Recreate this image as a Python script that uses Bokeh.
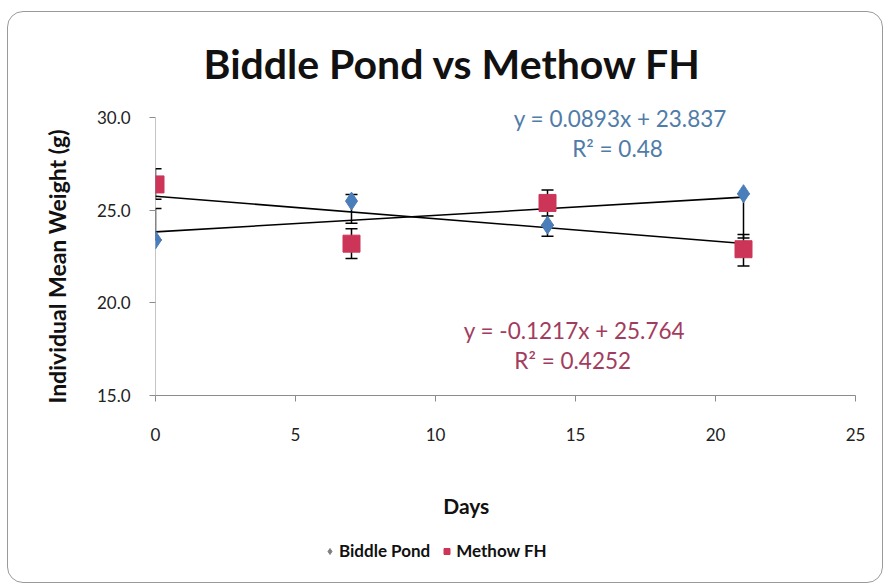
from bokeh.plotting import figure
from bokeh.layouts import column
from bokeh.models import (ColumnDataSource, Whisker, Legend, LegendItem, Label,
                          FixedTicker, Range1d, CustomJSTickFormatter, Title)
from bokeh.embed import file_html
from bokeh.resources import INLINE
import numpy as np

# ---- data ----
days = [0, 7, 14, 21]
biddle = [23.4, 25.5, 24.2, 25.9]
biddle_upper = [25.1, 25.85, 24.2, 25.9]
biddle_lower = [23.4, 24.3, 23.6, 23.5]
methow = [26.4, 23.2, 25.4, 22.9]
methow_upper = [27.25, 24.0, 26.1, 23.7]
methow_lower = [25.6, 22.4, 24.7, 22.0]

biddle_fit = (0.0893, 23.837)
methow_fit = (-0.1217, 25.764)
biddle_eq = ["y = 0.0893x + 23.837", "R² = 0.48"]
methow_eq = ["y = -0.1217x + 25.764", "R² = 0.4252"]

series_names = ["Biddle Pond", "Methow FH"]
x_ticks = [0, 5, 10, 15, 20, 25]
y_ticks = [15, 20, 25, 30]

title = "Biddle Pond vs Methow FH"
x_label = "Days"
y_label = "Individual Mean Weight (g)"

FONT = "Lato"
BLUE = "#4A7EBB"
RED = "#CC3558"
W = 874
H_MAIN = 438
H_STRIP = 132
STRIP_ORIGIN = 100  # strip ranges start here so the series data stay out of view

p = figure(width=W, height=H_MAIN, output_backend="svg", toolbar_location=None,
           x_range=Range1d(0, 25), y_range=Range1d(15, 30.5),
           min_border_left=147, min_border_right=27, min_border_top=96,
           min_border_bottom=55)
p.outline_line_color = None
p.border_fill_color = None
p.background_fill_color = None
p.xgrid.visible = False
p.ygrid.visible = False

p.title.text = title
p.title.text_font = FONT
p.title.text_font_style = "bold"
p.title.text_font_size = "41px"
p.title.text_color = "#111111"
p.title.align = "left"
p.title.offset = 48
p.title.standoff = 42

for ax in (p.xaxis[0], p.yaxis[0]):
    ax.axis_line_color = "#8c8c8c"
    ax.major_tick_line_color = "#8c8c8c"
    ax.minor_tick_line_color = None
    ax.major_tick_in = 0
    ax.major_tick_out = 6
    ax.major_label_text_font = FONT
    ax.major_label_text_font_size = "17px"
    ax.major_label_text_color = "#222222"

p.yaxis.axis_line_color = None
p.xaxis.ticker = FixedTicker(ticks=x_ticks)
p.yaxis.ticker = FixedTicker(ticks=y_ticks)
p.yaxis.formatter = CustomJSTickFormatter(code="return tick.toFixed(1);")
p.xaxis.major_label_standoff = 26
p.yaxis.major_label_standoff = 19

# y axis title as a side title (sits slightly below centre like the original)
p.add_layout(Title(text=y_label, text_font=FONT, text_font_style="bold",
                   text_font_size="23px", text_color="#111111",
                   align="left", offset=-8, standoff=45), "left")

# y axis line only up to the top tick
p.segment(x0=[x_ticks[0]], y0=[y_ticks[0]], x1=[x_ticks[0]], y1=[y_ticks[-1]],
          line_color="#8c8c8c", line_width=1)

# trend lines
xs_fit = np.array([days[0], days[-1]], dtype=float)
p.line(xs_fit, biddle_fit[0] * xs_fit + biddle_fit[1], line_color="black", line_width=1.6)
p.line(xs_fit, methow_fit[0] * xs_fit + methow_fit[1], line_color="black", line_width=1.6)

# error bars
src_b = ColumnDataSource(dict(x=days, y=biddle, up=biddle_upper, lo=biddle_lower))
src_m = ColumnDataSource(dict(x=days, y=methow, up=methow_upper, lo=methow_lower))
for src in (src_b, src_m):
    w = Whisker(source=src, base="x", upper="up", lower="lo",
                line_color="black", line_width=1.5)
    for h in (w.upper_head, w.lower_head):
        h.size = 12
        h.line_color = "black"
        h.line_width = 1.5
    p.add_layout(w)

p.scatter("x", "y", source=src_b, marker="diamond", size=18,
          fill_color=BLUE, line_color=BLUE)
p.scatter("x", "y", source=src_m, marker="square", size=17,
          fill_color=RED, line_color=RED)

# equations
EQ = dict(text_font=FONT, text_font_size="22.5px", text_align="center",
          text_baseline="middle")
p.add_layout(Label(x=16.6, y=29.95, text=biddle_eq[0], text_color="#4F7CA8", **EQ))
p.add_layout(Label(x=16.5, y=28.33, text=biddle_eq[1], text_color="#4F7CA8", **EQ))
p.add_layout(Label(x=14.96, y=18.5, text=methow_eq[0], text_color="#A23C5E", **EQ))
p.add_layout(Label(x=14.9, y=16.89, text=methow_eq[1], text_color="#A23C5E", **EQ))

# strip below the chart: x axis title and legend. Its glyphs use the series
# data, which lie outside this strip's ranges, so only the legend swatches show.
lf = figure(width=W, height=H_STRIP, output_backend="svg", toolbar_location=None,
            x_range=Range1d(STRIP_ORIGIN, STRIP_ORIGIN + W),
            y_range=Range1d(STRIP_ORIGIN, STRIP_ORIGIN + H_STRIP),
            min_border=0, min_border_left=0, min_border_right=0,
            min_border_top=0, min_border_bottom=0)
lf.axis.visible = False
lf.grid.visible = False
lf.outline_line_color = None
lf.border_fill_color = None
lf.background_fill_color = None
lf.add_layout(Label(x=STRIP_ORIGIN + 388, y=STRIP_ORIGIN + 77, text=x_label,
                    text_font=FONT, text_font_style="bold",
                    text_font_size="21px", text_color="#111111",
                    text_align="center", text_baseline="middle"))
lb = lf.scatter(days, biddle, marker="diamond", size=18,
                fill_color="#7f7f7f", line_color="#7f7f7f")
lm = lf.scatter(days, methow, marker="square", size=15,
                fill_color=RED, line_color=RED)
legend = Legend(items=[LegendItem(label=series_names[0], renderers=[lb]),
                       LegendItem(label=series_names[1], renderers=[lm])],
                orientation="horizontal", location=(167, 21),
                label_text_font=FONT, label_text_font_size="17px",
                label_text_font_style="bold", label_text_color="#111111",
                glyph_width=15, glyph_height=16, spacing=9,
                background_fill_alpha=0, border_line_color=None,
                label_standoff=2, padding=0, margin=0)
lf.add_layout(legend, "center")

layout = column(p, lf, spacing=0)
layout.styles = {"border": "1.5px solid #9a9a9a", "border-radius": "16px",
                 "margin-top": "11px", "margin-left": "7px"}

open("out.html", "w").write(file_html(layout, INLINE))
